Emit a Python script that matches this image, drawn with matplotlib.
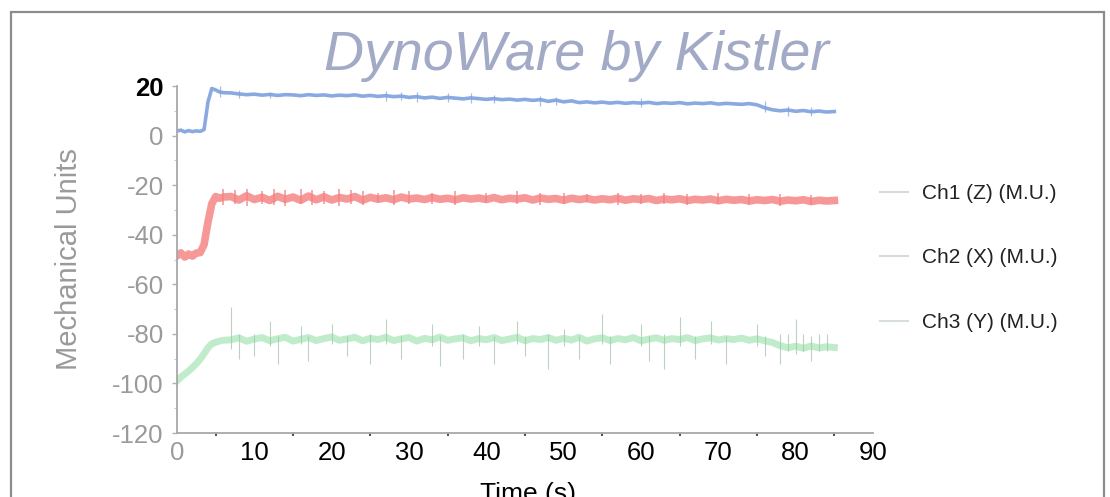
import matplotlib
matplotlib.use("Agg")
import matplotlib.pyplot as plt
from matplotlib.patches import Rectangle

plt.rcParams['font.family'] = ['Liberation Sans', 'DejaVu Sans']

# ---------------- data ----------------
TIME = [0, 0.5, 1, 1.5, 2, 2.5, 3, 3.5, 4, 4.5, 5, 5.5, 6] + list(range(7, 86))

CH1 = [1.8, 2.2, 1.5, 2.0, 1.6, 1.9, 1.7, 2.4, 13.5, 19.0, 18.4, 17.6, 17.3,
       17.2, 16.8, 16.5, 16.7, 16.3, 16.6, 16.2, 16.5, 16.4, 16.1,
       16.5, 16.2, 16.4, 16.0, 16.3, 16.1, 16.4, 15.9, 16.2, 15.8,
       16.1, 15.7, 15.9, 15.4, 15.7, 15.2, 15.5, 15.0, 15.4, 15.1,
       14.8, 15.2, 14.9, 14.6, 14.9, 14.5, 14.7, 14.3, 14.6, 14.2,
       14.5, 13.8, 14.3, 13.6, 14.0, 13.3, 13.6, 13.2, 13.5, 13.1,
       13.4, 13.0, 13.3, 13.1, 13.4, 12.9, 13.2, 13.0, 13.3, 12.8,
       13.1, 12.9, 13.2, 12.7, 13.0, 12.8, 12.6, 12.9, 12.4, 11.2,
       10.4, 10.0, 10.3, 9.8, 10.1, 9.6, 9.9, 9.5, 9.7]

CH2 = [-48.5, -47.3, -49.0, -47.8, -48.6, -47.4, -47.2, -44.0, -35.0, -27.5, -24.6, -25.3, -24.8,
       -24.6, -26.0, -24.3, -25.8, -24.9, -26.2, -24.5, -25.7, -24.8, -26.1,
       -24.4, -25.9, -24.7, -26.0, -25.0, -25.6, -24.6, -26.1, -24.9, -25.7,
       -25.1, -25.9, -24.8, -25.6, -25.2, -25.8, -25.0, -25.7, -25.3, -25.9,
       -25.1, -25.6, -25.2, -25.8, -25.0, -25.9, -25.3, -25.6, -25.1, -26.0,
       -25.2, -25.7, -25.4, -26.1, -25.3, -25.8, -25.4, -26.0, -25.5, -25.9,
       -25.3, -26.1, -25.5, -25.8, -25.4, -26.2, -25.6, -25.9, -25.5, -26.2,
       -25.7, -26.0, -25.6, -26.3, -25.7, -26.1, -25.8, -26.4, -25.9, -26.2,
       -25.8, -26.5, -26.0, -26.3, -25.9, -26.6, -26.1, -26.4, -26.2]

CH3 = [-99.0, -97.5, -96.2, -95.0, -93.6, -92.0, -90.2, -88.0, -85.6, -84.0, -83.4, -82.9, -82.6,
       -82.4, -81.6, -83.0, -82.1, -81.5, -82.8, -82.0, -81.4, -82.9, -82.2,
       -81.5, -82.7, -81.9, -81.3, -82.6, -82.0, -81.4, -82.8, -81.8, -82.3,
       -81.4, -82.7, -82.0, -81.5, -82.9, -81.8, -82.4, -81.3, -82.6, -82.0,
       -81.6, -82.8, -81.9, -82.4, -81.5, -82.7, -82.1, -81.4, -82.8, -81.9,
       -82.3, -81.5, -82.6, -81.8, -82.5, -81.4, -82.9, -82.0, -81.6, -82.7,
       -81.9, -82.4, -81.5, -82.8, -82.1, -81.6, -82.6, -81.9, -82.3, -81.5,
       -82.7, -82.0, -81.6, -82.5, -81.9, -82.3, -81.7, -82.6, -82.0, -82.8,
       -83.5, -84.8, -85.6, -85.0, -85.8, -84.9, -85.7, -85.2, -85.5]

CH1_SPIKE_T = [5.5, 8, 12, 27, 29, 31, 35, 38, 41, 47, 49, 60, 76, 79, 82]
CH1_SPIKE_LO = [15.5, 15.0, 15.0, 14.0, 14.5, 13.5, 13.5, 13.0, 13.0, 12.0, 12.5, 11.5, 9.5, 8.0, 8.0]
CH1_SPIKE_HI = [20.0, 18.5, 17.5, 18.0, 17.5, 17.5, 17.0, 17.0, 16.5, 16.0, 15.5, 15.0, 14.0, 12.0, 11.5]

CH2_SPIKE_T = [6, 7.5, 9, 11, 12.5, 14, 16, 17.5, 19, 21, 22.5, 24, 26, 28, 30,
               33, 36, 40, 44, 47, 50, 53, 57, 60, 63, 66, 70, 74, 78, 82]
CH2_SPIKE_LO = [-28.0, -27.5, -28.5, -27.5, -28.0, -28.5, -27.5, -28.0, -27.5, -28.5,
                -27.5, -28.0, -27.0, -28.0, -27.5, -27.5, -28.0, -27.0, -27.5, -28.0,
                -27.5, -27.0, -28.0, -27.5, -27.5, -28.0, -27.5, -28.0, -28.5, -28.0]
CH2_SPIKE_HI = [-21.5, -22.0, -21.5, -22.5, -21.5, -22.0, -21.5, -22.0, -22.5, -21.5,
                -22.0, -22.5, -23.0, -22.0, -22.5, -23.0, -22.5, -23.0, -22.5, -23.0,
                -23.0, -23.5, -23.0, -23.5, -23.0, -23.5, -23.0, -23.5, -23.5, -24.0]

CH3_SPIKE_T = [7, 8, 10, 12, 13, 16, 17, 20, 22, 25, 27, 29, 33, 34, 37, 39, 41, 44,
               45, 48, 50, 52, 55, 56, 60, 61, 63, 65, 67, 69, 71, 75, 76, 78, 79, 80,
               81, 82, 83, 84]
CH3_SPIKE_LO = [-86, -90, -89, -85, -92, -84, -91, -84, -89, -92, -84, -90, -85, -93, -90, -85, -92, -84,
                -89, -94, -85, -90, -84, -92, -85, -91, -94, -85, -90, -84, -92, -85, -89, -92, -87, -88,
                -87, -91, -87, -87]
CH3_SPIKE_HI = [-69, -80, -80, -75, -81, -77, -81, -76, -81, -80, -74, -81, -76, -81, -80, -77, -81, -75,
                -81, -80, -78, -81, -72, -81, -76, -81, -80, -73, -81, -75, -81, -76, -81, -80, -80, -74,
                -80, -81, -80, -80]

LABELS = ['Ch1 (Z) (M.U.)', 'Ch2 (X) (M.U.)', 'Ch3 (Y) (M.U.)']
X_TICKS = [0, 10, 20, 30, 40, 50, 60, 70, 80, 90]
Y_TICKS = [20, 0, -20, -40, -60, -80, -100, -120]

BLUE = '#7fa0de'
RED = '#f57f7f'
GREEN = '#84da9a'
GRAY = '#9a9a9a'

# ---------------- figure ----------------
W, H = 1110, 497
fig = plt.figure(figsize=(W / 100, H / 100), dpi=100)
fig.patch.set_facecolor('white')

# outer frame
fig.add_artist(Rectangle((11 / W, -0.1), (1104 - 11) / W, (1 - 12 / H) + 0.1,
                         transform=fig.transFigure, fill=False,
                         edgecolor='#8c8c8c', linewidth=1.6))

ax = fig.add_axes([177 / W, 1 - 433 / H, (873 - 177) / W, (433 - 86) / H])
ax.set_xlim(0, 90)
ax.set_ylim(-120, 20)

ax.vlines(CH1_SPIKE_T, CH1_SPIKE_LO, CH1_SPIKE_HI, color=BLUE, lw=0.9, alpha=0.7)
ax.vlines(CH2_SPIKE_T, CH2_SPIKE_LO, CH2_SPIKE_HI, color=RED, lw=1.2, alpha=0.8)
ax.vlines(CH3_SPIKE_T, CH3_SPIKE_LO, CH3_SPIKE_HI, color='#9fbfa4', lw=0.8, alpha=0.7)

l1, = ax.plot(TIME, CH1, color=BLUE, lw=2.6, alpha=0.9, label=LABELS[0])
l2, = ax.plot(TIME, CH2, color=RED, lw=5.5, alpha=0.8, label=LABELS[1])
l3, = ax.plot(TIME, CH3, color=GREEN, lw=5.0, alpha=0.5, label=LABELS[2])

for s in ['top', 'right']:
    ax.spines[s].set_visible(False)
for s in ['left', 'bottom']:
    ax.spines[s].set_color('#a8a8a8')
    ax.spines[s].set_linewidth(1.3)

ax.set_xticks(X_TICKS)
ax.set_xticklabels([str(v) for v in X_TICKS])
ax.set_xticks([5, 15, 25, 35, 45, 55, 65, 75, 85], minor=True)
ax.set_yticks(Y_TICKS)
ax.set_yticklabels([str(v) for v in Y_TICKS])
ax.set_yticks([10, -10, -30, -50, -70, -90, -110], minor=True)

ax.tick_params(axis='x', which='major', length=0, pad=6, labelsize=18.5, labelcolor='black')
ax.tick_params(axis='x', which='minor', length=2.5, width=1.5, color='#555555')
ax.tick_params(axis='y', which='major', length=3.5, width=1, color='#b0b0b0', pad=6,
               labelsize=18.5, labelcolor=GRAY)
ax.tick_params(axis='y', which='minor', length=2, width=0.8, color='#c8c8c8')

for lab in ax.get_xticklabels():
    if lab.get_text() == '0':
        lab.set_color(GRAY)
for lab in ax.get_yticklabels():
    if lab.get_text() == '20':
        lab.set_color('black')
        lab.set_fontweight('bold')

# labels & title
fig.text(69 / W, 1 - 259 / H, 'Mechanical Units', rotation=90, ha='center', va='center',
         fontsize=21, color=GRAY)
fig.text(528 / W, 1 - 501 / H, 'Time (s)', ha='center', va='baseline', fontsize=19,
         color='black')
fig.text(576 / W, 1 - 70 / H, 'DynoWare by Kistler', ha='center', va='baseline',
         fontsize=40, fontstyle='italic', color='#a2aac6')

leg = ax.legend(handles=[l1, l2, l3], loc='upper left',
                bbox_to_anchor=(880 / W, 1 - 184 / H), bbox_transform=fig.transFigure,
                frameon=False, fontsize=15, labelspacing=2.18, handlelength=1.35,
                handletextpad=0.65, borderpad=0, borderaxespad=0)
for h, c in zip(leg.get_lines(), ['#d6d9e0', '#e0d6d6', '#d6e0d8']):
    h.set_color(c)
    h.set_linewidth(1.5)
    h.set_alpha(1)
for t in leg.get_texts():
    t.set_color('#222222')

fig.savefig('out.png', dpi=100)
